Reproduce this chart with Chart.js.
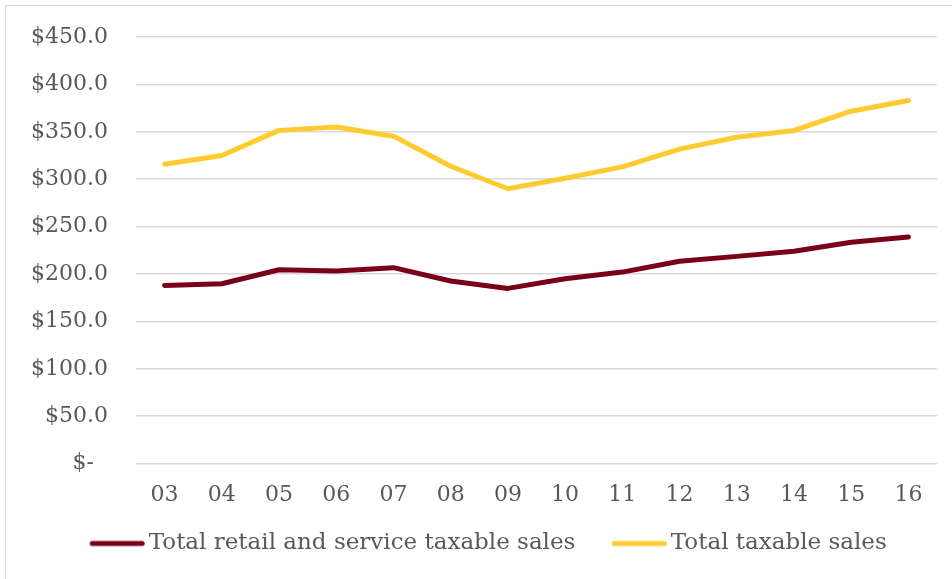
<!DOCTYPE html>
<html>
<head>
<meta charset="utf-8">
<script src="https://cdn.jsdelivr.net/npm/chart.js@4/dist/chart.umd.min.js"></script>
<style>
  body { margin: 0; background: #fff; overflow: hidden; }
  #wrap { position: relative; width: 952px; height: 579px; overflow: hidden; }
  #frame { position: absolute; left: 5px; top: 5px; width: 980px; height: 600px; border: 1px solid #d9d9d9; box-sizing: border-box; pointer-events: none; }
  canvas { position: absolute; left: 0; top: 0; }
</style>
</head>
<body>
<div id="wrap">
  <canvas id="chart" width="952" height="579"></canvas>
  <div id="frame"></div>
</div>
<script>
// fiscal years
const years = ['03', '04', '05', '06', '07', '08', '09', '10', '11', '12', '13', '14', '15', '16'];

// values in millions of dollars
const retailService = [188, 189.7, 204.5, 203.2, 206.7, 192.6, 184.8, 195, 202, 213.4, 218.6, 223.9, 233.4, 239];
const totalTaxable = [315.8, 325, 351.5, 355, 345.4, 313.7, 289.9, 301, 313, 331.7, 344.3, 351.4, 371.7, 383];

const seriesNames = ['Total retail and service taxable sales', 'Total taxable sales'];
const seriesColors = ['#7a0019', '#ffcb31'];

const textColor = '#595959';
const tickFont = { family: 'DejaVu Serif', size: 22 };
const legendFont = { family: 'DejaVu Serif', size: 23 };

// legend marker: a short thick line sitting close to the text
const legendBox = 56;
function legendLine(color) {
  const shift = 8;
  const c = document.createElement('canvas');
  c.width = legendBox + shift * 2;
  c.height = 8;
  const g = c.getContext('2d');
  g.strokeStyle = color;
  g.lineWidth = 5;
  g.lineCap = 'round';
  g.beginPath();
  g.moveTo(shift * 2 + 3, 4);
  g.lineTo(c.width - 3, 4);
  g.stroke();
  return c;
}

// nudge the centred legend row a bit to the right
const legendShift = {
  id: 'legendShift',
  afterLayout(chart) {
    chart.legend.left += 14;
    chart.legend.right += 14;
  },
};

const ctx = document.getElementById('chart').getContext('2d');

new Chart(ctx, {
  type: 'line',
  data: {
    labels: years,
    datasets: [
      {
        label: seriesNames[0],
        data: retailService,
        borderColor: seriesColors[0],
        backgroundColor: seriesColors[0],
        borderWidth: 5,
        borderCapStyle: 'round',
        borderJoinStyle: 'round',
        pointRadius: 0,
        pointStyle: legendLine(seriesColors[0]),
        tension: 0,
        fill: false,
      },
      {
        label: seriesNames[1],
        data: totalTaxable,
        borderColor: seriesColors[1],
        backgroundColor: seriesColors[1],
        borderWidth: 5,
        borderCapStyle: 'round',
        borderJoinStyle: 'round',
        pointRadius: 0,
        pointStyle: legendLine(seriesColors[1]),
        tension: 0,
        fill: false,
      },
    ],
  },
  options: {
    responsive: false,
    animation: false,
    layout: { padding: { left: 3, right: 15, top: 37, bottom: 14 } },
    plugins: {
      tooltip: { enabled: false },
      legend: {
        position: 'bottom',
        labels: {
          color: textColor,
          font: legendFont,
          usePointStyle: true,
          pointStyleWidth: legendBox,
          padding: 6,
          generateLabels(chart) {
            const items = Chart.defaults.plugins.legend.labels.generateLabels(chart);
            // widen the gap after the first entry
            items[0].text += '\u00a0\u00a0\u00a0';
            return items;
          },
        },
      },
    },
    scales: {
      x: {
        offset: true,
        grid: { display: false, drawTicks: false },
        border: { display: false },
        ticks: { color: textColor, font: tickFont, padding: 18 },
      },
      y: {
        min: 0,
        max: 450,
        grid: { color: '#d9d9d9', lineWidth: 1.5, drawTicks: false },
        border: { display: false },
        afterFit(axis) {
          // top of the plot is set by layout padding alone
          axis.paddingTop = 0;
        },
        ticks: {
          color: textColor,
          font: tickFont,
          padding: 28,
          stepSize: 50,
          callback: (v) => (v === 0 ? '$-  ' : '$' + v.toFixed(1)),
        },
      },
    },
  },
  plugins: [legendShift],
});
</script>
</body>
</html>
